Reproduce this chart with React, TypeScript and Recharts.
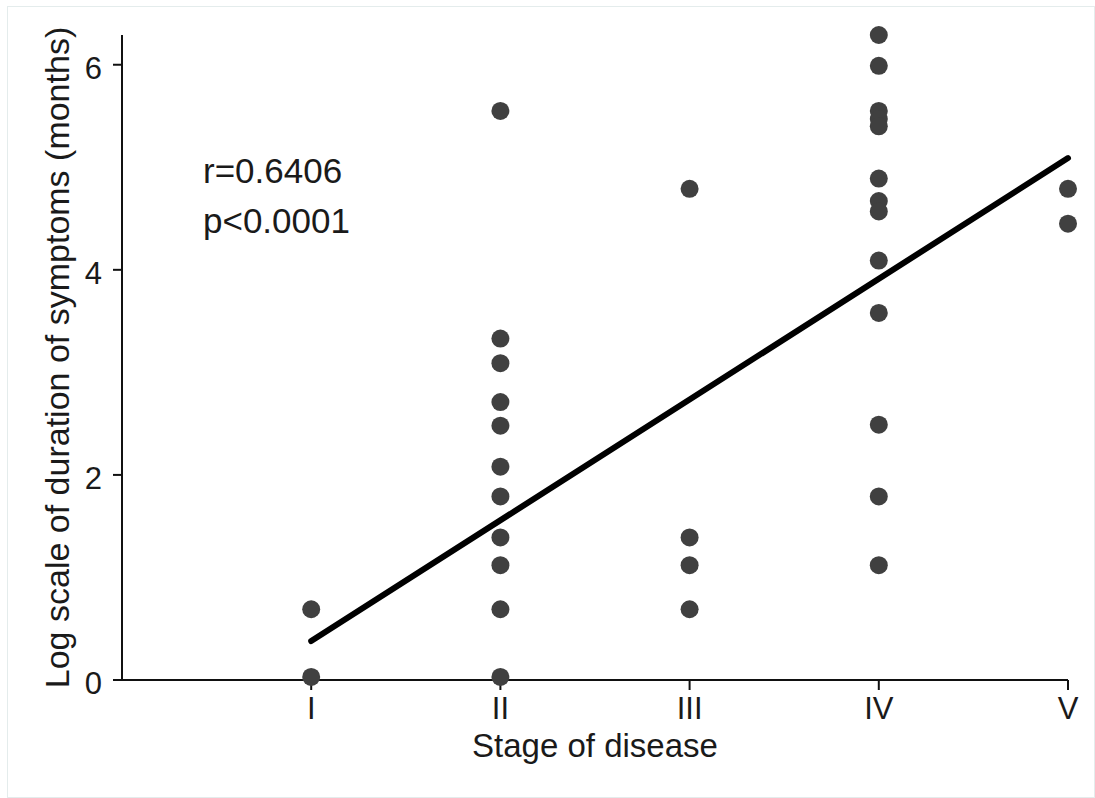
import React from 'react';
import { ScatterChart, Scatter, XAxis, YAxis } from 'recharts';

const stageLabels = ['I', 'II', 'III', 'IV', 'V'];
const yTicks = [0, 2, 4, 6];

// log duration of symptoms per stage
const stageI = [0.69, 0.03];
const stageII = [5.55, 3.33, 3.09, 2.71, 2.48, 2.08, 1.79, 1.39, 1.12, 0.69, 0.03];
const stageIII = [4.79, 1.39, 1.12, 0.69];
const stageIV = [6.29, 5.99, 5.55, 5.47, 5.4, 4.89, 4.67, 4.57, 4.09, 3.58, 2.49, 1.79, 1.12];
const stageV = [4.79, 4.45];

// regression line end points (stage, fitted value)
const fitStages = [1, 5];
const fitValues = [0.38, 5.09];

const stageValues = [stageI, stageII, stageIII, stageIV, stageV];
const points = stageValues.flatMap((vals, i) => vals.map((v) => ({ stage: i + 1, value: v })));
const fitData = fitStages.map((s, i) => ({ stage: s, value: fitValues[i] }));

const font = '"Liberation Sans", Arial, sans-serif';
const textColor = '#1a1a1a';

const App: React.FC = () => {
  return (
    <div style={{ position: 'absolute', left: 0, top: 0, width: 1095, height: 798, background: '#fff', fontFamily: font }}>
      <div
        style={{
          position: 'absolute',
          left: 7,
          top: 6,
          width: 1086,
          height: 790,
          border: '1px solid #e4ecec',
        }}
      />
      <ScatterChart width={1095} height={798} margin={{ top: 35, right: 27, left: 0, bottom: 0 }}>
        <XAxis
          type="number"
          dataKey="stage"
          domain={[0, 5]}
          ticks={[1, 2, 3, 4, 5]}
          tickFormatter={(v: number) => stageLabels[v - 1] ?? ''}
          height={118}
          stroke="#111"
          strokeWidth={2}
          tickSize={10}
          tickMargin={7}
          tick={{ fill: textColor, fontSize: 31, fontFamily: font }}
          label={{
            value: 'Stage of disease',
            position: 'insideBottom',
            offset: 41,
            fill: textColor,
            fontSize: 33,
            fontFamily: font,
          }}
        />
        <YAxis
          type="number"
          dataKey="value"
          domain={[0, 6.26]}
          ticks={yTicks}
          width={122}
          stroke="#111"
          strokeWidth={2}
          tickSize={9}
          tickMargin={11}
          tick={{ fill: textColor, fontSize: 31, fontFamily: font, dy: 3 }}
          label={{
            value: 'Log scale of duration of symptoms (months)',
            angle: -90,
            position: 'insideLeft',
            offset: 57,
            fill: textColor,
            fontSize: 34,
            fontFamily: font,
            style: { textAnchor: 'middle' },
          }}
        />
        <Scatter data={points} fill="#404040" isAnimationActive={false} shape={(p: any) => <circle cx={p.cx} cy={p.cy} r={9} fill="#404040" />} />
        <Scatter
          data={fitData}
          isAnimationActive={false}
          line={{ stroke: '#000', strokeWidth: 6, strokeLinecap: 'round' }}
          shape={() => <g />}
        />
      </ScatterChart>
      <div style={{ position: 'absolute', left: 203, top: 153, fontSize: 35, lineHeight: 1, color: textColor }}>r=0.6406</div>
      <div style={{ position: 'absolute', left: 203, top: 203, fontSize: 35, lineHeight: 1, color: textColor }}>p&lt;0.0001</div>
    </div>
  );
};

export default App;
